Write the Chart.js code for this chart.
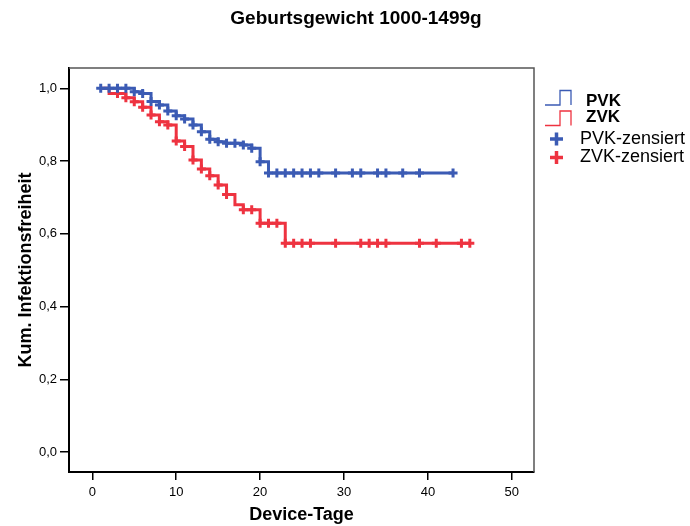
<!DOCTYPE html>
<html>
<head>
<meta charset="utf-8">
<title>Geburtsgewicht 1000-1499g</title>
<script src="https://cdn.jsdelivr.net/npm/chart.js@4.4.1/dist/chart.umd.min.js"></script>
<style>
  html, body { margin: 0; padding: 0; background: #fff; }
  #wrap { width: 690px; height: 526px; position: relative; }
</style>
</head>
<body>
<div id="wrap"><canvas id="kmChart"></canvas></div>
<script>
// Kaplan-Meier: day of each step and the estimate right after it
const pvkTimes = [1, 5, 6, 7, 8, 9, 10, 11, 12, 13, 14, 15, 16, 18, 19, 20, 21];
const pvkSurv = [1.0, 0.991, 0.986, 0.964, 0.954, 0.938, 0.925, 0.916, 0.899, 0.881, 0.86, 0.853, 0.849, 0.844, 0.835, 0.798, 0.767];
const pvkCensored = [1, 2, 3, 4, 5, 6, 7, 8, 9, 10, 11, 12, 13, 14, 15, 16, 17, 18, 19, 20, 21, 22, 23, 24, 25, 26, 27, 29, 31, 32, 34, 35, 37, 39, 43];

const zvkTimes = [1, 2, 4, 5, 6, 7, 8, 9, 10, 11, 12, 13, 14, 15, 16, 17, 18, 20, 23];
const zvkSurv = [1.0, 0.986, 0.974, 0.963, 0.948, 0.927, 0.908, 0.899, 0.855, 0.84, 0.803, 0.778, 0.76, 0.734, 0.708, 0.68, 0.666, 0.629, 0.574];
const zvkCensored = [3, 4, 5, 6, 7, 8, 9, 10, 11, 12, 13, 14, 15, 16, 18, 19, 20, 21, 22, 23, 24, 25, 26, 29, 32, 33, 34, 35, 39, 41, 44, 45];

const xTicks = [0, 10, 20, 30, 40, 50];
const yTicks = [0, 0.2, 0.4, 0.6, 0.8, 1.0];

const BLUE = "#3b5bb4";
const RED = "#ee3340";
const FONT = "'Liberation Sans', Arial, sans-serif";

Chart.defaults.font.family = FONT;
Chart.defaults.color = "#000";

function stepPoints(times, surv, censored) {
  const pts = times.map((t, i) => ({ x: t, y: surv[i] }));
  pts.push({ x: Math.max(...censored), y: surv[surv.length - 1] });
  return pts;
}

function survivalAt(times, surv, t) {
  let s = surv[0];
  times.forEach((ti, i) => {
    if (ti <= t) s = surv[i];
  });
  return s;
}

function censorPoints(times, surv, censored) {
  return censored.map((t) => ({ x: t, y: survivalAt(times, surv, t) }));
}

// title, top/right frame edges and the legend
const extras = {
  id: "extras",
  afterDraw(chart) {
    const { ctx, chartArea: a } = chart;
    ctx.save();

    ctx.strokeStyle = "#555";
    ctx.lineWidth = 1.5;
    ctx.beginPath();
    ctx.moveTo(a.left, a.top);
    ctx.lineTo(a.right, a.top);
    ctx.lineTo(a.right, a.bottom);
    ctx.stroke();

    ctx.fillStyle = "#000";
    ctx.textBaseline = "middle";
    ctx.textAlign = "center";
    ctx.font = "bold 19px " + FONT;
    ctx.fillText("Geburtsgewicht 1000-1499g", 356, 19);

    // legend: step lines for the curves, crosses for censored cases
    const steps = [
      { color: BLUE, y: 105, label: "PVK" },
      { color: RED, y: 125.5, label: "ZVK" },
    ];
    ctx.lineWidth = 1.3;
    steps.forEach((s, i) => {
      ctx.strokeStyle = s.color;
      ctx.beginPath();
      ctx.moveTo(545, s.y);
      ctx.lineTo(560, s.y);
      ctx.lineTo(560, s.y - 14.5);
      ctx.lineTo(571, s.y - 14.5);
      ctx.lineTo(571, s.y);
      ctx.stroke();
      ctx.textAlign = "left";
      ctx.font = "bold 17px " + FONT;
      ctx.fillText(s.label, 586, i === 0 ? 101 : 117);
    });

    const marks = [
      { color: BLUE, y: 139, label: "PVK-zensiert" },
      { color: RED, y: 157.5, label: "ZVK-zensiert" },
    ];
    ctx.lineWidth = 3.5;
    marks.forEach((m) => {
      ctx.strokeStyle = m.color;
      ctx.beginPath();
      ctx.moveTo(550, m.y);
      ctx.lineTo(563, m.y);
      ctx.moveTo(556.5, m.y - 6.5);
      ctx.lineTo(556.5, m.y + 6.5);
      ctx.stroke();
      ctx.font = "18px " + FONT;
      ctx.fillText(m.label, 580, m.y);
    });

    ctx.restore();
  },
};

const ctx = document.getElementById("kmChart").getContext("2d");
new Chart(ctx, {
  type: "scatter",
  data: {
    datasets: [
      {
        label: "PVK-zensiert",
        data: censorPoints(pvkTimes, pvkSurv, pvkCensored),
        pointStyle: "cross",
        pointRadius: 4.5,
        borderColor: BLUE,
        borderWidth: 3,
      },
      {
        label: "PVK",
        data: stepPoints(pvkTimes, pvkSurv, pvkCensored),
        showLine: true,
        stepped: true,
        pointRadius: 0,
        borderColor: BLUE,
        borderWidth: 3,
      },
      {
        label: "ZVK-zensiert",
        data: censorPoints(zvkTimes, zvkSurv, zvkCensored),
        pointStyle: "cross",
        pointRadius: 4.5,
        borderColor: RED,
        borderWidth: 3,
      },
      {
        label: "ZVK",
        data: stepPoints(zvkTimes, zvkSurv, zvkCensored),
        showLine: true,
        stepped: true,
        pointRadius: 0,
        borderColor: RED,
        borderWidth: 3,
      },
    ],
  },
  options: {
    responsive: true,
    maintainAspectRatio: false,
    animation: false,
    layout: { padding: { top: 68, right: 156, left: 0, bottom: 0 } },
    plugins: {
      legend: { display: false },
      tooltip: { enabled: false },
    },
    scales: {
      x: {
        type: "linear",
        min: -2.78,
        max: 52.65,
        afterBuildTicks: (s) => {
          s.ticks = xTicks.map((v) => ({ value: v }));
        },
        afterFit: (s) => {
          s.height = 54;
        },
        ticks: {
          autoSkip: false,
          maxRotation: 0,
          padding: 5,
          font: { size: 13 },
          callback: (v) => String(v),
        },
        grid: {
          drawOnChartArea: false,
          color: "#000",
          lineWidth: 1.5,
          tickLength: 8,
        },
        border: { color: "#000", width: 2 },
        title: {
          display: true,
          text: "Device-Tage",
          font: { size: 18, weight: "bold" },
          padding: { top: 0, bottom: 0 },
        },
      },
      y: {
        type: "linear",
        min: -0.055,
        max: 1.056,
        afterBuildTicks: (s) => {
          s.ticks = yTicks.map((v) => ({ value: v }));
        },
        afterFit: (s) => {
          s.width = 69;
        },
        ticks: {
          padding: 3,
          font: { size: 13 },
          callback: (v) => v.toFixed(1).replace(".", ","),
        },
        grid: {
          drawOnChartArea: false,
          color: "#000",
          lineWidth: 1.5,
          tickLength: 9,
        },
        border: { color: "#000", width: 2 },
        title: {
          display: true,
          text: "Kum. Infektionsfreiheit",
          font: { size: 18, weight: "bold" },
          padding: { top: 15, bottom: 0 },
        },
      },
    },
  },
  plugins: [extras],
});
</script>
</body>
</html>
